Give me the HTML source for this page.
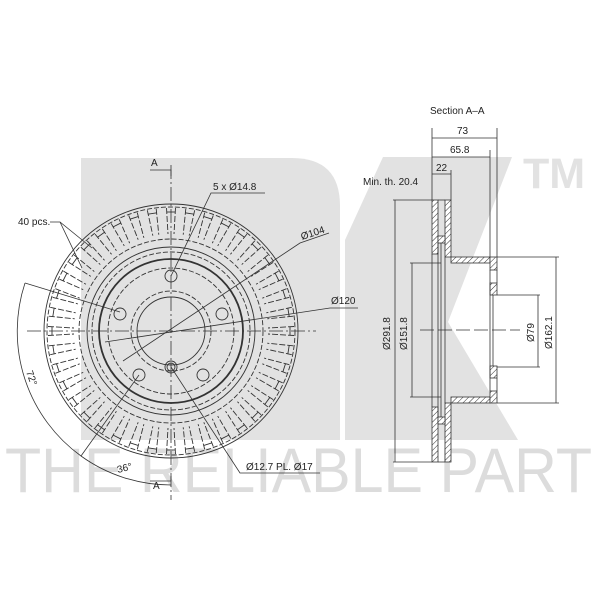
<!DOCTYPE html>
<html><head><meta charset="utf-8"><style>
html,body{margin:0;padding:0;background:#fff;}
svg{display:block;}
text{font-family:"Liberation Sans",sans-serif;fill:#222;}
</style></head><body>
<svg width="600" height="600" viewBox="0 0 600 600" xmlns="http://www.w3.org/2000/svg">
<defs>
<pattern id="h" width="4" height="4" patternUnits="userSpaceOnUse" patternTransform="rotate(45)">
<rect width="4" height="4" fill="#fff"/><line x1="0" y1="0" x2="0" y2="4" stroke="#333" stroke-width="1"/>
</pattern>
<g id="v">
<line x1="-4.5" y1="-123" x2="-3" y2="-97" stroke="#333" stroke-width="0.9" stroke-dasharray="6,2"/>
<line x1="4.5" y1="-123" x2="3" y2="-97" stroke="#333" stroke-width="0.9" stroke-dasharray="6,2"/>
<line x1="-4.5" y1="-119" x2="4.5" y2="-119" stroke="#333" stroke-width="0.9"/>
</g>
</defs>
<!-- watermark -->
<g fill="#e2e2e2">
<path d="M81 158 H292 Q340 158 340 206 V440 H81 Z"/>
<polygon points="383,157 512,157 448,322 518,440 345,440 345,240"/>
<text x="523" y="188" font-size="43" font-weight="bold" style="fill:#e2e2e2">TM</text>
<text x="5" y="492" font-size="63" textLength="587" lengthAdjust="spacingAndGlyphs" style="fill:#dcdcdc">THE RELIABLE PART</text>
</g>
<!-- front view -->
<g fill="none" stroke="#333" stroke-width="0.9">
<circle cx="171" cy="331" r="127"/>
<circle cx="171" cy="331" r="124" stroke-dasharray="5,2"/>
<circle cx="171" cy="331" r="92" stroke-dasharray="5,2"/>
<circle cx="171" cy="331" r="84"/>
<circle cx="171" cy="331" r="79" stroke-dasharray="5,2"/>
<circle cx="171" cy="331" r="72" stroke-width="1.8"/>
<circle cx="171" cy="331" r="63" stroke-dasharray="5,2"/>
<circle cx="171" cy="331" r="40" stroke-dasharray="5,2"/>
<circle cx="171" cy="331" r="34"/>
<circle cx="171" cy="276" r="6"/>
<circle cx="222" cy="314" r="6"/>
<circle cx="120" cy="314" r="6"/>
<circle cx="203" cy="375" r="6"/>
<circle cx="139" cy="375" r="6"/>
<circle cx="171" cy="367" r="6"/>
<circle cx="171" cy="367" r="4"/>
</g>
<g transform="translate(171,331)">
<use href="#v" transform="rotate(0)"/><use href="#v" transform="rotate(9)"/><use href="#v" transform="rotate(18)"/><use href="#v" transform="rotate(27)"/><use href="#v" transform="rotate(36)"/><use href="#v" transform="rotate(45)"/><use href="#v" transform="rotate(54)"/><use href="#v" transform="rotate(63)"/><use href="#v" transform="rotate(72)"/><use href="#v" transform="rotate(81)"/>
<use href="#v" transform="rotate(90)"/><use href="#v" transform="rotate(99)"/><use href="#v" transform="rotate(108)"/><use href="#v" transform="rotate(117)"/><use href="#v" transform="rotate(126)"/><use href="#v" transform="rotate(135)"/><use href="#v" transform="rotate(144)"/><use href="#v" transform="rotate(153)"/><use href="#v" transform="rotate(162)"/><use href="#v" transform="rotate(171)"/>
<use href="#v" transform="rotate(180)"/><use href="#v" transform="rotate(189)"/><use href="#v" transform="rotate(198)"/><use href="#v" transform="rotate(207)"/><use href="#v" transform="rotate(216)"/><use href="#v" transform="rotate(225)"/><use href="#v" transform="rotate(234)"/><use href="#v" transform="rotate(243)"/><use href="#v" transform="rotate(252)"/><use href="#v" transform="rotate(261)"/>
<use href="#v" transform="rotate(270)"/><use href="#v" transform="rotate(279)"/><use href="#v" transform="rotate(288)"/><use href="#v" transform="rotate(297)"/><use href="#v" transform="rotate(306)"/><use href="#v" transform="rotate(315)"/><use href="#v" transform="rotate(324)"/><use href="#v" transform="rotate(333)"/><use href="#v" transform="rotate(342)"/><use href="#v" transform="rotate(351)"/>
</g>
<g fill="none" stroke="#333" stroke-width="0.8">
<line x1="171" y1="165" x2="171" y2="500" stroke-dasharray="14,3,2,3"/>
<line x1="27" y1="331" x2="316" y2="331" stroke-dasharray="14,3,2,3"/>
<polyline points="150,170 171,170 171,176"/>
<polyline points="150,481 171,481 171,476"/>
<polyline points="265,193 211,193 171,276"/>
<polyline points="329,233 300,243 123,361"/>
<polyline points="358,308 330,308 105,342"/>
<polyline points="50,222 60,222 92,248"/>
<line x1="60" y1="222" x2="82" y2="268"/>
<path d="M25 283 A154 154 0 0 0 81 456"/>
<path d="M81 456 A154 154 0 0 0 171 485"/>
<line x1="25" y1="283" x2="120" y2="312"/>
<line x1="81" y1="456" x2="139" y2="375"/>
<polyline points="320,473 240,473 171,367"/>
</g>
<g font-size="10">
<text x="151" y="166">A</text>
<text x="153" y="489">A</text>
<text x="213" y="190">5 x Ø14.8</text>
<text x="302" y="240" transform="rotate(-18 302 240)">Ø104</text>
<text x="331" y="304">Ø120</text>
<text x="18" y="225">40 pcs.</text>
<text x="26" y="372" transform="rotate(70 26 372)">72°</text>
<text x="118" y="473" transform="rotate(-14 118 473)">36°</text>
<text x="246" y="470">Ø12.7 PL. Ø17</text>
</g>
<!-- section -->
<g stroke="#333" stroke-width="0.8">
<rect x="432" y="200" width="6" height="54" fill="url(#h)"/>
<rect x="432" y="407" width="6" height="55" fill="url(#h)"/>
<rect x="445" y="200" width="6" height="57" fill="url(#h)"/>
<rect x="445" y="403" width="6" height="59" fill="url(#h)"/>
<rect x="438" y="236" width="7" height="7" fill="url(#h)"/>
<rect x="438" y="417" width="7" height="7" fill="url(#h)"/>
<rect x="451" y="257" width="39" height="6" fill="url(#h)"/>
<rect x="451" y="397" width="39" height="6" fill="url(#h)"/>
<rect x="490" y="257" width="7" height="13" fill="url(#h)"/>
<rect x="490" y="283" width="7" height="12" fill="url(#h)"/>
<rect x="490" y="366" width="7" height="12" fill="url(#h)"/>
<rect x="490" y="391" width="7" height="12" fill="url(#h)"/>
<g fill="none">
<line x1="438" y1="200" x2="445" y2="200"/>
<line x1="438" y1="462" x2="445" y2="462"/>
<line x1="432" y1="254" x2="432" y2="407"/>
<line x1="438" y1="243" x2="438" y2="417"/>
<line x1="441" y1="243" x2="441" y2="417"/>
<line x1="445" y1="257" x2="445" y2="403"/>
<line x1="490" y1="270" x2="490" y2="391"/>
<line x1="493" y1="295" x2="493" y2="366"/>
<line x1="497" y1="270" x2="497" y2="283"/>
<line x1="497" y1="378" x2="497" y2="391"/>
<line x1="420" y1="330" x2="520" y2="330" stroke-dasharray="14,4"/>
<line x1="432" y1="128" x2="432" y2="200"/>
<line x1="497" y1="128" x2="497" y2="257"/>
<line x1="490" y1="150" x2="490" y2="257"/>
<line x1="451" y1="170" x2="451" y2="200"/>
<line x1="432" y1="138" x2="497" y2="138"/>
<line x1="432" y1="157" x2="490" y2="157"/>
<line x1="432" y1="174" x2="451" y2="174"/>
<line x1="393" y1="200" x2="432" y2="200"/>
<line x1="393" y1="462" x2="432" y2="462"/>
<line x1="395" y1="200" x2="395" y2="462"/>
<line x1="410" y1="263" x2="441" y2="263"/>
<line x1="410" y1="397" x2="441" y2="397"/>
<line x1="412" y1="263" x2="412" y2="397"/>
<line x1="497" y1="295" x2="540" y2="295"/>
<line x1="497" y1="367" x2="540" y2="367"/>
<line x1="538" y1="295" x2="538" y2="367"/>
<line x1="497" y1="257" x2="559" y2="257"/>
<line x1="497" y1="403" x2="559" y2="403"/>
<line x1="556" y1="257" x2="556" y2="403"/>
</g>
</g>
<g font-size="10">
<text x="430" y="114">Section A–A</text>
<text x="457" y="134">73</text>
<text x="450" y="153">65.8</text>
<text x="436" y="171">22</text>
<text x="363" y="185">Min. th. 20.4</text>
<text x="0" y="0" transform="translate(390,350) rotate(-90)">Ø291.8</text>
<text x="0" y="0" transform="translate(407,350) rotate(-90)">Ø151.8</text>
<text x="0" y="0" transform="translate(534,342) rotate(-90)">Ø79</text>
<text x="0" y="0" transform="translate(552,349) rotate(-90)">Ø162.1</text>
</g>
</svg>
</body></html>
